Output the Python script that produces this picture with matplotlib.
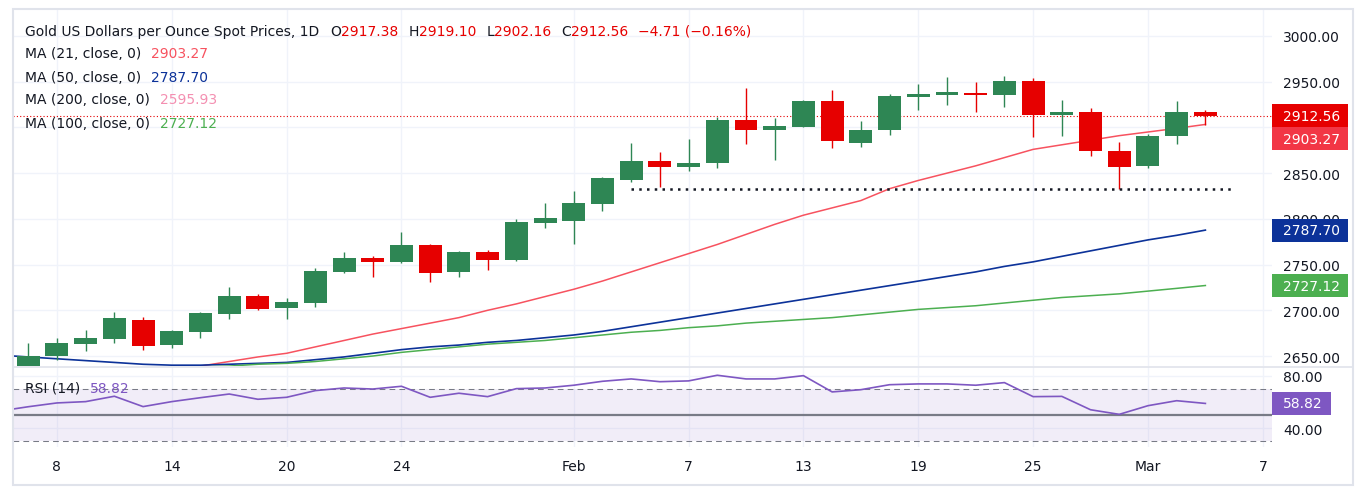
import numpy as np
import pandas as pd
import matplotlib
matplotlib.use("Agg")
import matplotlib.pyplot as plt
from matplotlib.patches import Rectangle
from matplotlib.lines import Line2D

# ---- data ----
# candles Jan 7 .. Mar 5 2025
opens = [2636, 2650, 2663, 2669, 2689, 2662, 2676, 2696, 2716, 2703, 2708, 2742, 2757, 2753,
         2771, 2742, 2764, 2755, 2796, 2798, 2816, 2843, 2863, 2857, 2861, 2908, 2897, 2901,
         2929, 2883, 2897, 2933, 2936, 2938, 2936, 2951, 2914, 2917, 2874, 2858, 2891, 2917.38]
highs = [2664, 2670, 2678, 2698, 2693, 2678, 2698, 2725, 2718, 2714, 2746, 2764, 2759, 2786,
         2773, 2765, 2766, 2800, 2817, 2831, 2846, 2883, 2873, 2887, 2911, 2943, 2910, 2930,
         2941, 2907, 2937, 2947, 2955, 2950, 2956, 2954, 2930, 2921, 2884, 2893, 2929, 2919.10]
lows = [2633, 2646, 2655, 2664, 2657, 2659, 2670, 2690, 2700, 2690, 2704, 2741, 2736, 2752,
        2731, 2736, 2744, 2754, 2790, 2773, 2809, 2840, 2835, 2852, 2856, 2882, 2864, 2900,
        2878, 2879, 2892, 2919, 2925, 2917, 2922, 2889, 2891, 2869, 2833, 2856, 2882, 2902.16]
closes = [2650, 2664, 2670, 2692, 2661, 2677, 2697, 2716, 2701, 2709, 2743, 2757, 2753, 2771,
          2741, 2764, 2755, 2797, 2801, 2817, 2845, 2863, 2857, 2861, 2908, 2897, 2902, 2929,
          2885, 2897, 2934, 2937, 2939, 2935, 2951, 2914, 2917, 2874, 2857, 2891, 2917.27, 2912.56]

# indicator series Jan 6 .. Mar 5 (one extra leading day)
ma21 = [2617, 2620, 2623, 2626, 2629, 2632, 2635, 2639, 2644, 2649, 2653, 2660, 2667, 2674,
        2680, 2686, 2692, 2700, 2707, 2715, 2723, 2732, 2742, 2752, 2762, 2772, 2783, 2794,
        2804, 2812, 2820, 2833, 2842, 2850, 2858, 2867, 2876, 2881, 2886, 2891, 2895, 2899, 2903.27]
ma50 = [2651, 2649, 2647, 2645, 2643, 2641, 2640, 2640, 2641, 2642, 2643, 2646, 2649, 2653,
        2657, 2660, 2662, 2665, 2667, 2670, 2673, 2677, 2682, 2687, 2692, 2697, 2702, 2707,
        2712, 2717, 2722, 2727, 2732, 2737, 2742, 2748, 2753, 2759, 2765, 2771, 2777, 2782, 2787.70]
ma100 = [2624, 2626, 2628, 2630, 2632, 2634, 2636, 2638, 2639, 2641, 2642, 2644, 2647, 2650,
         2654, 2657, 2660, 2663, 2665, 2667, 2670, 2673, 2676, 2678, 2681, 2683, 2686, 2688,
         2690, 2692, 2695, 2698, 2701, 2703, 2705, 2708, 2711, 2714, 2716, 2718, 2721, 2724, 2727.12]
ma200_last = 2595.93
rsi = [53.0, 56.3, 59.2, 60.2, 64.3, 56.4, 60.2, 63.2, 66.0, 62.0, 63.5, 68.6, 70.6, 69.8,
       71.9, 63.5, 66.6, 64.0, 70.1, 70.6, 72.7, 75.7, 77.5, 75.4, 76.0, 80.3, 77.5, 77.5,
       80.0, 67.6, 69.3, 73.1, 73.7, 73.7, 72.7, 74.7, 64.0, 64.2, 54.0, 50.5, 57.1, 60.9, 58.82]

support_level = 2833
support_start, support_end = "2025-02-05", "2025-03-06"

tick_dates = ["2025-01-08", "2025-01-14", "2025-01-20", "2025-01-24", "2025-02-03", "2025-02-07",
              "2025-02-13", "2025-02-19", "2025-02-25", "2025-03-03", "2025-03-07"]
tick_labels = ["8", "14", "20", "24", "Feb", "7", "13", "19", "25", "Mar", "7"]
price_ticks = [2650, 2700, 2750, 2800, 2850, 2900, 2950, 3000]

# ---- styling ----
UP, DOWN = "#2E8654", "#E60000"
C_MA21, C_MA50, C_MA100, C_MA200 = "#F7525F", "#0C3299", "#4CAF50", "#F48FB1"
C_RSI = "#7E57C2"
TXT = "#131722"
GRID = "#F0F3FA"

W, H = 1363, 502
fig = plt.figure(figsize=(W / 100, H / 100), dpi=100)
fig.patch.set_facecolor("white")


def fx(px):
    return px / W


def fy(py):
    return 1 - py / H


days = pd.bdate_range("2025-01-06", "2025-03-07")
pos = {d.strftime("%Y-%m-%d"): i - 1 for i, d in enumerate(days)}
x_line = np.arange(len(ma21)) - 1
x_c = np.arange(len(opens))

ax = fig.add_axes([fx(13), fy(367), fx(1272) - fx(13), fy(10) - fy(367)])
rx = fig.add_axes([fx(13), fy(448), fx(1272) - fx(13), fy(368) - fy(448)])
xlim = (-0.53, 43.32)

# ---- price panel ----
o, h, l, c = map(np.array, (opens, highs, lows, closes))
cols = np.where(c >= o, UP, DOWN)
ax.vlines(x_c, l, h, colors=cols, lw=1, zorder=3)
ax.bar(x_c, np.maximum(np.abs(c - o), 1.3), bottom=np.minimum(o, c), width=0.8,
       color=cols, lw=0, zorder=4)

ax.plot(x_line, ma21, color=C_MA21, lw=1.1, zorder=2)
ax.plot(x_line, ma50, color=C_MA50, lw=1.2, zorder=2)
ax.plot(x_line, ma100, color=C_MA100, lw=1.1, zorder=2)

ax.axhline(closes[-1], color=DOWN, lw=0.8, ls=(0, (1, 2)), zorder=2)
ax.hlines(support_level, pos[support_start], pos[support_end], color=TXT, lw=1.8,
          linestyles=(0, (1, 2.1)), zorder=5)

ax.set_xlim(*xlim)
ax.set_ylim(2639.1, 3029.5)
ax.set_yticks(price_ticks)
ax.set_yticklabels(["" if p == 2900 else f"{p:.2f}" for p in price_ticks])
ax.yaxis.tick_right()
ax.set_xticks([pos[d] for d in tick_dates])
ax.set_xticklabels([])
ax.tick_params(length=0, labelsize=10, labelcolor=TXT, pad=7.9)
ax.grid(True, color=GRID, lw=1)
ax.set_axisbelow(True)
for s in ax.spines.values():
    s.set_visible(False)

# ---- RSI panel ----
rx.axhspan(30, 70, color=C_RSI, alpha=0.1, lw=0)
rx.axhline(70, color="#787B86", lw=0.75, ls=(0, (5.5, 4)))
rx.axhline(30, color="#787B86", lw=0.75, ls=(0, (5.5, 4)))
rx.axhline(50, color="#787B86", lw=1.6)
rx.plot(x_line, rsi, color=C_RSI, lw=1.2, zorder=3)
rx.set_xlim(*xlim)
rx.set_ylim(25.6, 86.6)
rx.set_yticks([40, 80])
rx.set_yticklabels(["40.00", "80.00"])
rx.yaxis.tick_right()
rx.set_xticks([pos[d] for d in tick_dates])
rx.set_xticklabels(tick_labels)
rx.tick_params(length=0, labelsize=10, labelcolor=TXT)
rx.tick_params(axis="y", pad=7.9)
rx.tick_params(axis="x", pad=9)
rx.grid(True, color=GRID, lw=1)
rx.set_axisbelow(True)
for s in rx.spines.values():
    s.set_visible(False)

# ---- frame ----
fig.patches.append(Rectangle((fx(13), fy(486)), fx(1353) - fx(13), fy(10) - fy(486),
                             transform=fig.transFigure, fill=False, ec="#E0E3EB", lw=1.5))
fig.lines.append(Line2D([fx(13), fx(1353)], [fy(367.5), fy(367.5)], transform=fig.transFigure,
                        color="#E0E3EB", lw=1.2))

renderer = fig.canvas.get_renderer()


def text_run(x, y, parts, size=10):
    for s, col, gap in parts:
        t = fig.text(fx(x), fy(y), s, color=col, fontsize=size, va="center", ha="left")
        x = t.get_window_extent(renderer=renderer).x1 + gap


chg = closes[-1] - closes[-2]
pct = chg / closes[-2] * 100
text_run(25, 32, [("Gold US Dollars per Ounce Spot Prices, 1D", TXT, 11),
                  ("O", TXT, 0), (f"{opens[-1]:.2f}", DOWN, 10),
                  ("H", TXT, 0), (f"{highs[-1]:.2f}", DOWN, 10),
                  ("L", TXT, 0), (f"{lows[-1]:.2f}", DOWN, 10),
                  ("C", TXT, 0), (f"{closes[-1]:.2f}", DOWN, 10),
                  (f"\u2212{abs(chg):.2f} (\u2212{abs(pct):.2f}%)", DOWN, 0)])
legend_rows = [("MA (21, close, 0)", ma21[-1], C_MA21),
               ("MA (50, close, 0)", ma50[-1], C_MA50),
               ("MA (200, close, 0)", ma200_last, C_MA200),
               ("MA (100, close, 0)", ma100[-1], C_MA100)]
for (lab, val, col), yy in zip(legend_rows, [54.3, 77.7, 100.3, 124.3]):
    text_run(25, yy, [(lab, TXT, 10), (f"{val:.2f}", col, 0)])
text_run(25, 389, [("RSI (14)", TXT, 10), (f"{rsi[-1]:.2f}", C_RSI, 0)])

# ---- value boxes on the right scale ----
BOX_H = 23


def value_boxes(axis, items):
    last_top = None
    for val, col in items:
        yc = axis.transData.transform((0, val))[1]
        if last_top is not None and yc + BOX_H / 2 > last_top:
            yc = last_top - BOX_H / 2
        t = fig.text(fx(1283), yc / H, f"{val:.2f}", color="white", fontsize=10,
                     va="center", ha="left", zorder=6)
        x1 = t.get_window_extent(renderer=renderer).x1
        fig.patches.append(Rectangle((fx(1272), (yc - BOX_H / 2) / H), (x1 + 8 - 1272) / W,
                                     BOX_H / H, transform=fig.transFigure, color=col, lw=0,
                                     zorder=5))
        last_top = yc - BOX_H / 2


value_boxes(ax, [(closes[-1], DOWN), (ma21[-1], "#F23645")])
value_boxes(ax, [(ma50[-1], C_MA50)])
value_boxes(ax, [(ma100[-1], C_MA100)])
value_boxes(rx, [(rsi[-1], C_RSI)])

fig.savefig("out.png", dpi=100)
